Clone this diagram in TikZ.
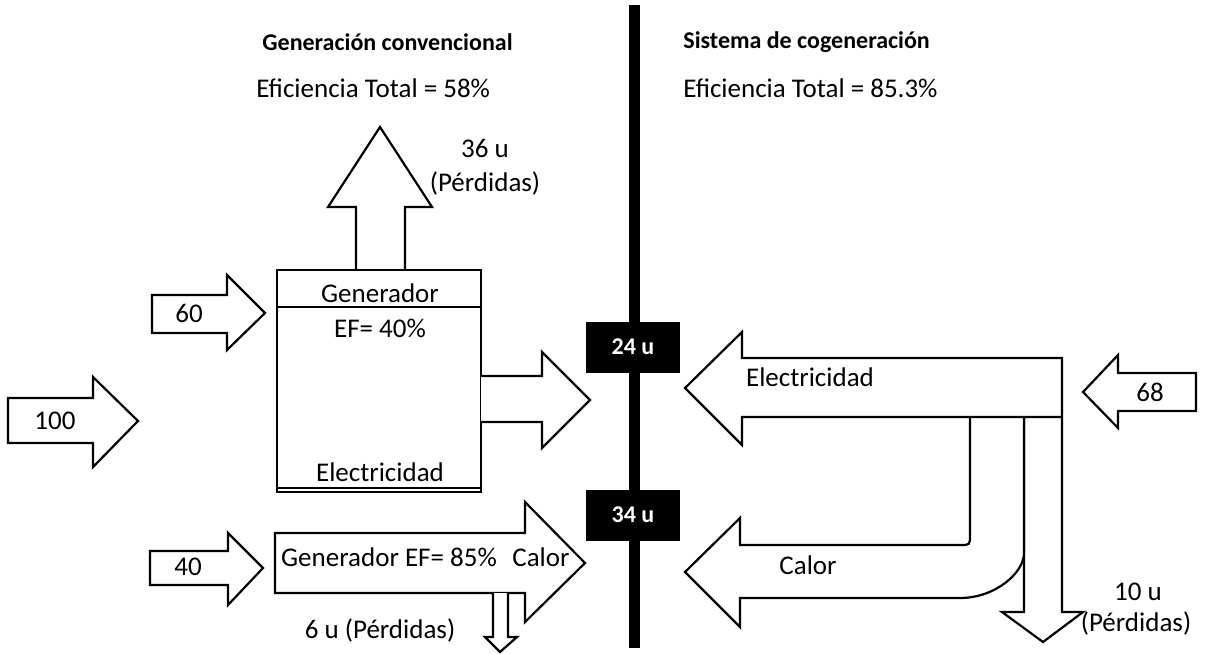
\documentclass[tikz,border=0pt]{standalone}
\usepackage{fontspec}
\setmainfont{Carlito}
\begin{document}
\begin{tikzpicture}[x=0.5pt, y=-0.5pt, line join=miter,
  blk/.style={draw, line width=1.1pt, fill=white},
  lbl/.style={font=\fontsize{13.5}{16}\selectfont, inner sep=0pt},
  hd/.style={lbl, font=\fontsize{12}{15}\selectfont\bfseries},
  tag/.style={fill=black, text=white, inner sep=0pt, font=\fontsize{12}{14}\selectfont\bfseries,
    minimum width=47pt, minimum height=25.5pt}]
  \useasboundingbox (0,0) rectangle (1208,653);
  % titles
  \node[hd, anchor=west] (hdconv) at (262,42) {Generación convencional};
  \node[hd, anchor=west] (hdcog) at (683,42) {Sistema de cogeneración};
  \node[lbl, anchor=west] (efconv) at (256,88) {Eficiencia Total = 58\%};
  \node[lbl, anchor=west] (efcog) at (683,88) {Eficiencia Total = 85.3\%};
  % dividing bar
  \fill (629,5) rectangle (640,648);
  \node[tag] (t24) at (633,347) {24 u};
  \node[tag] (t34) at (633,515) {34 u};
  % conventional side
  \draw[blk] (8,398) -- (93,398) -- (93,377) -- (138,421) -- (93,467) -- (93,443) -- (8,443) -- cycle;
  \node[lbl] (in100) at (55,421) {100};
  \draw[blk] (152,295) -- (227,295) -- (227,275) -- (265,313) -- (227,350) -- (227,333) -- (152,333) -- cycle;
  \node[lbl] (in60) at (189,313) {60};
  \draw[blk] (150,551) -- (228,551) -- (228,533) -- (263,568) -- (228,605) -- (228,585) -- (150,585) -- cycle;
  \node[lbl] (in40) at (188,567) {40};
  \draw[blk] (356,270) -- (356,207) -- (328,207) -- (380,127) -- (432,207) -- (405,207) -- (405,270);
  \node[lbl] (loss36) at (485,148) {36 u};
  \node[lbl] (perd36) at (485,183) {(Pérdidas)};
  \draw[blk] (277,270) rectangle (481,492);
  \draw[line width=1.1pt] (277,307) -- (481,307);
  \draw[line width=0.8pt] (277,488) -- (481,488);
  \node[lbl] (gen) at (380,293) {Generador};
  \node[lbl] (ef40) at (380,328) {EF= 40\%};
  \node[lbl] (elec) at (380,472) {Electricidad};
  \draw[blk] (481,376) -- (542,376) -- (542,352) -- (590,400) -- (542,448) -- (542,422) -- (481,422);
  \draw[blk] (275,533) -- (525,533) -- (525,502) -- (585,563) -- (525,622) -- (525,593) -- (275,593) -- cycle;
  \node[lbl] (gen85) at (389,557) {Generador EF= 85\%};
  \node[lbl] (calconv) at (541,557) {Calor};
  \draw[blk] (493,593) -- (493,637) -- (485,637) -- (500,652) -- (517,637) -- (508,637) -- (508,593);
  \node[lbl] (loss6) at (380,630) {6 u (Pérdidas)};
  % cogeneration side
  \draw[blk] (1196,373) -- (1118,373) -- (1118,355) -- (1083,392) -- (1118,428) -- (1118,411) -- (1196,411) -- cycle;
  \node[lbl] (in68) at (1150,392) {68};
  \draw[blk] (1024,417) -- (1024,612) -- (1002,612) -- (1043,642) -- (1083,612) -- (1062,612) -- (1062,417);
  \draw[blk] (970,417) -- (970,535) .. controls (970,545) .. (960,545) -- (740,545) -- (740,518) -- (685,572)
    -- (740,627) -- (740,598) -- (960,598) .. controls (995,598) and (1024,573) .. (1024,553) -- (1024,417);
  \draw[blk] (1062,358) -- (742,358) -- (742,332) -- (685,388) -- (742,445) -- (742,417) -- (1062,417) -- cycle;
  \node[lbl] (elcog) at (810,377) {Electricidad};
  \node[lbl] (calcog) at (808,565) {Calor};
  \node[lbl] (loss10) at (1138,592) {10 u};
  \node[lbl] (perd10) at (1136,623) {(Pérdidas)};
\end{tikzpicture}
\end{document}
